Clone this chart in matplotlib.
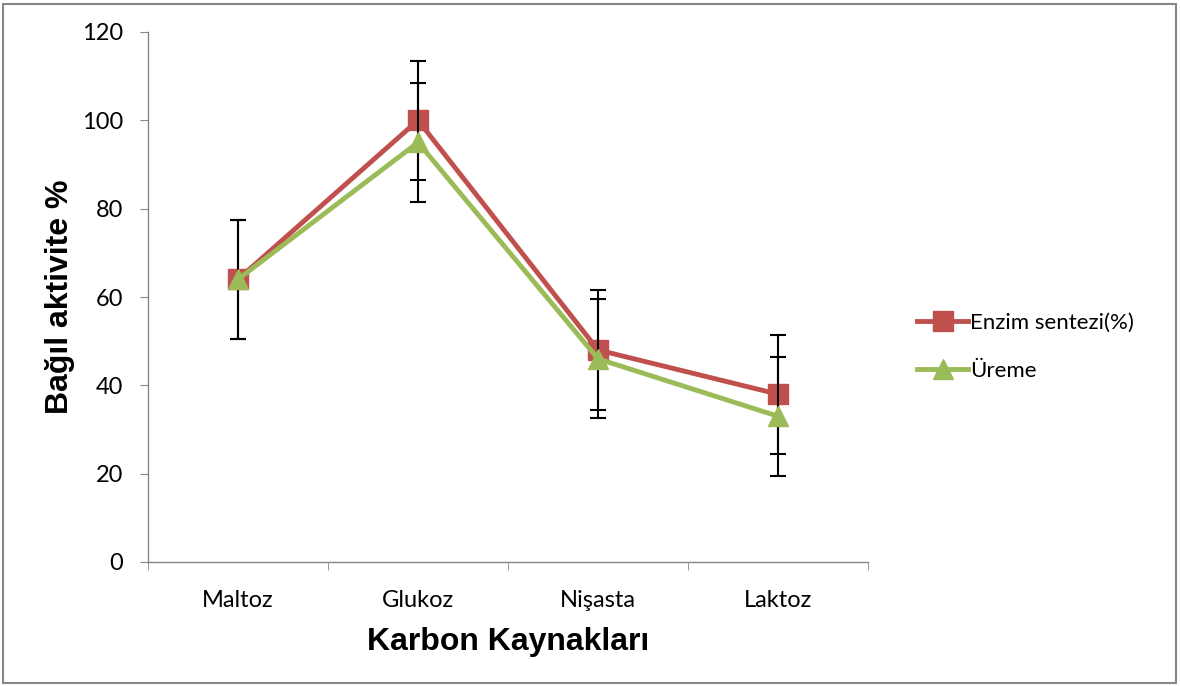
import matplotlib
matplotlib.use("Agg")
import matplotlib.pyplot as plt
from matplotlib.patches import Rectangle

categories = ["Maltoz", "Glukoz", "Nişasta", "Laktoz"]
enzim = [64, 100, 48, 38]
ureme = [64, 95, 46, 33]
enzim_err = [13.5, 13.5, 13.5, 13.5]
ureme_err = [13.5, 13.5, 13.5, 13.5]
yticks = [0, 20, 40, 60, 80, 100, 120]

W, H = 1180, 686
fig = plt.figure(figsize=(W / 100, H / 100), dpi=100)
fig.patches.append(Rectangle((3 / W, 3 / H), 1 - 7 / W, 1 - 7 / H, transform=fig.transFigure,
                             fill=False, edgecolor="#868686", linewidth=1.5))
ax = fig.add_axes([148 / W, (H - 562) / H, 720 / W, 530 / H])

x = list(range(len(categories)))
gray = "#868686"
ax.errorbar(x, enzim, yerr=enzim_err, color="#C0504D", lw=3.5, marker="s", ms=14,
            ecolor="black", elinewidth=1.5, capsize=6, capthick=1.5, label="Enzim sentezi(%)", zorder=3)
ax.errorbar(x, ureme, yerr=ureme_err, color="#9BBB59", lw=3.5, marker="^", ms=14,
            ecolor="black", elinewidth=1.5, capsize=6, capthick=1.5, label="Üreme", zorder=4)

ax.set_xlim(-0.5, len(categories) - 0.5)
ax.set_ylim(0, 120)
ax.set_yticks(yticks)
ax.set_xticks(x)
ax.set_xticklabels(categories)
ax.set_xticks([i - 0.5 for i in range(len(categories) + 1)], minor=True)
ax.tick_params(axis="x", which="major", length=0, pad=20)
ax.tick_params(axis="x", which="minor", length=6, color=gray, direction="out")
ax.tick_params(axis="y", length=6, color=gray, direction="out", pad=12)
for lab in ax.get_xticklabels() + ax.get_yticklabels():
    lab.set_fontfamily("Lato")
    lab.set_fontsize(17)
for s in ["top", "right"]:
    ax.spines[s].set_visible(False)
for s in ["left", "bottom"]:
    ax.spines[s].set_color(gray)
    ax.spines[s].set_linewidth(1)

ax.set_ylabel("Bağıl aktivite %", fontfamily="Liberation Sans", fontweight="bold", fontsize=23, labelpad=5)
ax.set_xlabel("Karbon Kaynakları", fontfamily="Liberation Sans", fontweight="bold", fontsize=23, labelpad=12)

handles, labels = ax.get_legend_handles_labels()
handles = [h[0] for h in handles]
fig.legend(handles, labels, loc="center left", bbox_to_anchor=(897 / W, 1 - 347 / H),
           frameon=False, prop={"family": "Lato", "size": 16}, handlelength=2.3,
           handletextpad=0.1, labelspacing=1.25)

fig.savefig("out.png", dpi=100)
